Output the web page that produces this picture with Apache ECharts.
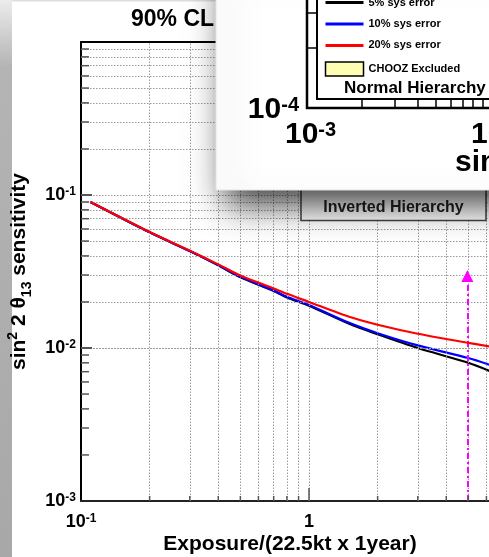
<!DOCTYPE html>
<html>
<head>
<meta charset="utf-8">
<script src="https://cdn.jsdelivr.net/npm/echarts@6/dist/echarts.min.js"></script>
<style>
html,body{margin:0;padding:0;background:#fff;}
#chart{width:489px;height:557px;}
</style>
</head>
<body>
<div id="chart"></div>
<script>
// ---- data ----
const exposure = [0.11, 0.2, 0.3, 0.4, 0.5, 0.7, 0.8, 1.0, 1.5, 2.0, 3.0, 5.0, 6.3];
const sys5  = [0.090, 0.0570, 0.0430, 0.0347, 0.0290, 0.0236, 0.0214, 0.0189, 0.0144, 0.0123, 0.0100, 0.0080, 0.0070];
const sys10 = [0.090, 0.0570, 0.0430, 0.0348, 0.0292, 0.0238, 0.0216, 0.0191, 0.0146, 0.0125, 0.0104, 0.0086, 0.0077];
const sys20 = [0.090, 0.0573, 0.0433, 0.0352, 0.0298, 0.0245, 0.0226, 0.0200, 0.0160, 0.0142, 0.0124, 0.0108, 0.0102];
const seriesNames = ['5% sys error', '10% sys error', '20% sys error'];
const seriesColors = ['#000000', '#0000ff', '#ff0000'];
const xTickValues = [0.1, 1, 10];
const xTickLabels = ['10^-1', '1', '10'];
const yTickValues = [0.001, 0.01, 0.1, 1];
const yTickLabels = ['10^-3', '10^-2', '10^-1', ''];
const xGridValues = [0.2,0.3,0.4,0.5,0.6,0.7,0.8,0.9,1,2,3,4,5,6,7,8,9];
const yGridValues = [0.002,0.003,0.004,0.005,0.006,0.007,0.008,0.009,0.01,
                     0.02,0.03,0.04,0.05,0.06,0.07,0.08,0.09,0.1,
                     0.2,0.3,0.4,0.5,0.6,0.7,0.8,0.9];
const arrowX = 4.95;
const arrowY = [0.001, 0.0296];

const FONT = '"Liberation Sans", Arial, Helvetica, sans-serif';

function toRich(s) {
  if (!s) return '';
  const i = s.indexOf('^');
  if (i < 0) return '{b|' + s + '}';
  return '{b|' + s.slice(0, i) + '}{s|' + s.slice(i + 1) + '}';
}
function labelFor(values, labels) {
  return function (v) {
    for (let i = 0; i < values.length; i++) {
      if (Math.abs(Math.log10(v) - Math.log10(values[i])) < 1e-6) return toRich(labels[i]);
    }
    return '';
  };
}
const tickRich = {
  b: { fontSize: 18, fontWeight: 'bold', fontFamily: FONT, color: '#000' },
  s: { fontSize: 12, fontWeight: 'bold', fontFamily: FONT, color: '#000', verticalAlign: 'top' }
};

const chart = echarts.init(document.getElementById('chart'), null, { renderer: 'canvas' });

const gridMarks = [];
xGridValues.forEach(v => gridMarks.push({ xAxis: v }));
yGridValues.forEach(v => gridMarks.push({ yAxis: v }));

const tickMarks = [];
yGridValues.forEach(v => {
  const major = (v === 0.01 || v === 0.1);
  tickMarks.push({ coord: [0.1, v], symbolSize: major ? [11, 2] : [8, 1.5], symbolOffset: [major ? 5.5 : 4, 0] });
});
xGridValues.forEach(v => {
  const major = (v === 1);
  tickMarks.push({ coord: [v, 0.001], symbolSize: major ? [1.5, 13] : [1.5, 5], symbolOffset: [0, major ? -6.5 : -2.5] });
});

const lineSeries = seriesNames.map((name, k) => {
  const ys = [sys5, sys10, sys20][k];
  return {
    name: name, type: 'line', xAxisIndex: 0, yAxisIndex: 0,
    data: exposure.map((x, i) => [x, ys[i]]),
    symbol: 'none', showSymbol: false, smooth: 0.25, z: 3 + k,
    color: seriesColors[k],
    lineStyle: { color: seriesColors[k], width: 2.2 },
    animation: false
  };
});

const option = {
  animation: false,
  backgroundColor: '#ffffff',
  title: {
    text: '90% CL', left: 131, top: 8, padding: 0,
    textStyle: { fontSize: 23, fontWeight: 'bold', fontFamily: FONT, color: '#000' }
  },
  legend: {
    orient: 'vertical', left: 324, top: -3, padding: 0,
    itemWidth: 38, itemHeight: 14, itemGap: 10.2, selectedMode: false, z: 110,
    textStyle: { fontSize: 11, fontWeight: 'bold', fontFamily: FONT, color: '#000' },
    data: [
      { name: '5% sys error', itemStyle: { opacity: 0 }, lineStyle: { width: 3 } },
      { name: '10% sys error', itemStyle: { opacity: 0 }, lineStyle: { width: 3 } },
      { name: '20% sys error', itemStyle: { opacity: 0 }, lineStyle: { width: 3 } },
      { name: 'CHOOZ Excluded', icon: 'rect', itemStyle: { color: '#ffffb4', borderColor: '#000', borderWidth: 1.5, opacity: 1 } }
    ]
  },
  grid: { left: 81, top: 42, width: 456, height: 459, outerBoundsMode: 'none', containLabel: false },
  xAxis: [
    {
      type: 'log', logBase: 10, min: 0.1, max: 10, position: 'bottom',
      axisLine: { show: true, lineStyle: { color: '#222', width: 2 } },
      axisTick: { show: false }, splitLine: { show: false }, minorTick: { show: false },
      axisLabel: { margin: 12, formatter: labelFor(xTickValues, xTickLabels), rich: tickRich }
    },
    {
      type: 'log', logBase: 10, min: 0.1, max: 10, position: 'top',
      axisLine: { show: true, lineStyle: { color: '#000', width: 2 } },
      axisTick: { show: false }, splitLine: { show: false }, axisLabel: { show: false }
    }
  ],
  yAxis: {
    type: 'log', logBase: 10, min: 0.001, max: 1,
    axisLine: { show: true, lineStyle: { color: '#000', width: 2 } },
    axisTick: { show: false }, splitLine: { show: false },
    axisLabel: { margin: 5, formatter: labelFor(yTickValues, yTickLabels), rich: tickRich },
    name: 'sin{sup|2} 2 θ{sub|13} sensitivity',
    nameLocation: 'middle', nameGap: 38, nameRotate: 90,
    nameTextStyle: {
      fontSize: 21, fontWeight: 'bold', fontFamily: FONT, color: '#000', lineHeight: 30,
      rich: {
        sup: { fontSize: 14, fontWeight: 'bold', fontFamily: FONT, color: '#000', verticalAlign: 'top', lineHeight: 30, padding: [2, 0, 0, 0] },
        sub: { fontSize: 14, fontWeight: 'bold', fontFamily: FONT, color: '#000', verticalAlign: 'bottom', lineHeight: 30 }
      }
    }
  },
  series: [
    {
      name: 'grid', type: 'line', data: [], z: 1, silent: true,
      markLine: {
        silent: true, symbol: 'none', animation: false, label: { show: false },
        lineStyle: { color: '#9a9a9a', width: 1, type: [1.5, 1.5] },
        data: gridMarks
      },
      markPoint: {
        silent: true, symbol: 'rect', animation: false, label: { show: false },
        itemStyle: { color: '#555' },
        data: tickMarks
      }
    },
    ...lineSeries,
    { name: 'CHOOZ Excluded', type: 'line', data: [], color: '#ffffb4' },
    {
      name: 'arrow', type: 'line', data: [], z: 7, silent: true,
      markLine: {
        silent: true, animation: false, symbol: ['none', 'triangle'], symbolSize: 12,
        label: { show: false },
        lineStyle: { color: '#ff00ff', width: 2, type: [6, 3, 2, 3] },
        itemStyle: { color: '#ff00ff' },
        data: [[{ coord: [arrowX, arrowY[0]] }, { coord: [arrowX, arrowY[1]] }]]
      }
    }
  ],
  graphic: [
    { type: 'rect', z: 0, shape: { x: 0, y: 0, width: 12, height: 557 },
      style: { fill: new echarts.graphic.LinearGradient(0, 0, 0, 1, [
        { offset: 0, color: '#ececec' }, { offset: 0.12, color: '#b4b4b4' }, { offset: 1, color: '#a8a8a8' }]) } },
    { type: 'rect', z: 0, shape: { x: 12, y: 0, width: 210, height: 1.5 }, style: { fill: '#dddddd' } },
    { type: 'rect', z: 50, shape: { x: 301, y: 170, width: 185, height: 50.5 },
      style: { fill: '#ffffff', stroke: '#444', lineWidth: 1.5 } },
    { type: 'text', z: 51, style: { text: 'Inverted Hierarchy', x: 393.5, y: 207.5, align: 'center', verticalAlign: 'middle',
      fontSize: 16, fontWeight: 'bold', fontFamily: FONT, fill: '#222' } },
    { type: 'rect', z: 100, shape: { x: 216, y: -40, width: 300, height: 230 },
      style: { fill: '#ffffff', stroke: '#e4e4e4', lineWidth: 1, shadowBlur: 32, shadowOffsetX: 10, shadowOffsetY: 14, shadowColor: 'rgba(0,0,0,0.75)' } },
    { type: 'polyline', z: 101, shape: { points: [[307, -5], [307, 108], [495, 108]] }, style: { stroke: '#000', lineWidth: 2.5, fill: null } },
    { type: 'polyline', z: 101, shape: { points: [[317, -5], [317, 99], [495, 99]] }, style: { stroke: '#000', lineWidth: 2, fill: null } },
    { type: 'line', z: 101, shape: { x1: 307, y1: 13, x2: 317, y2: 13 }, style: { stroke: '#000', lineWidth: 1.5 } },
    { type: 'line', z: 101, shape: { x1: 307, y1: 48, x2: 317, y2: 48 }, style: { stroke: '#000', lineWidth: 1.5 } },
    ...[362, 395, 418, 436, 451, 463, 473, 483].map(px => ({
      type: 'line', z: 101, shape: { x1: px, y1: 99, x2: px, y2: 108 }, style: { stroke: '#000', lineWidth: 1.5 } })),
    { type: 'text', z: 102, style: { text: 'Normal Hierarchy', x: 344, y: 88, align: 'left', verticalAlign: 'middle',
      fontSize: 17, fontWeight: 'bold', fontFamily: FONT, fill: '#000' } },
    { type: 'text', z: 102, style: { text: '{b|10}{s|-4}', x: 299, y: 110, align: 'right', verticalAlign: 'middle',
      rich: { b: { fontSize: 30, fontWeight: 'bold', fontFamily: FONT, fill: '#000' },
              s: { fontSize: 20, fontWeight: 'bold', fontFamily: FONT, fill: '#000', verticalAlign: 'top' } } } },
    { type: 'text', z: 102, style: { text: '{b|10}{s|-3}', x: 285, y: 135, align: 'left', verticalAlign: 'middle',
      rich: { b: { fontSize: 30, fontWeight: 'bold', fontFamily: FONT, fill: '#000' },
              s: { fontSize: 20, fontWeight: 'bold', fontFamily: FONT, fill: '#000', verticalAlign: 'top' } } } },
    { type: 'text', z: 102, style: { text: '{b|10}{s|-2}', x: 471, y: 135, align: 'left', verticalAlign: 'middle',
      rich: { b: { fontSize: 30, fontWeight: 'bold', fontFamily: FONT, fill: '#000' },
              s: { fontSize: 20, fontWeight: 'bold', fontFamily: FONT, fill: '#000', verticalAlign: 'top' } } } },
    { type: 'text', z: 102, style: { text: 'sin', x: 455, y: 163, align: 'left', verticalAlign: 'middle',
      fontSize: 30, fontWeight: 'bold', fontFamily: FONT, fill: '#000' } },
    { type: 'text', z: 10, style: { text: 'Exposure/(22.5kt x 1year)', x: 290, y: 544.5, align: 'center', verticalAlign: 'middle',
      fontSize: 21, fontWeight: 'bold', fontFamily: FONT, fill: '#000' } }
  ]
};
chart.setOption(option);
</script>
</body>
</html>
